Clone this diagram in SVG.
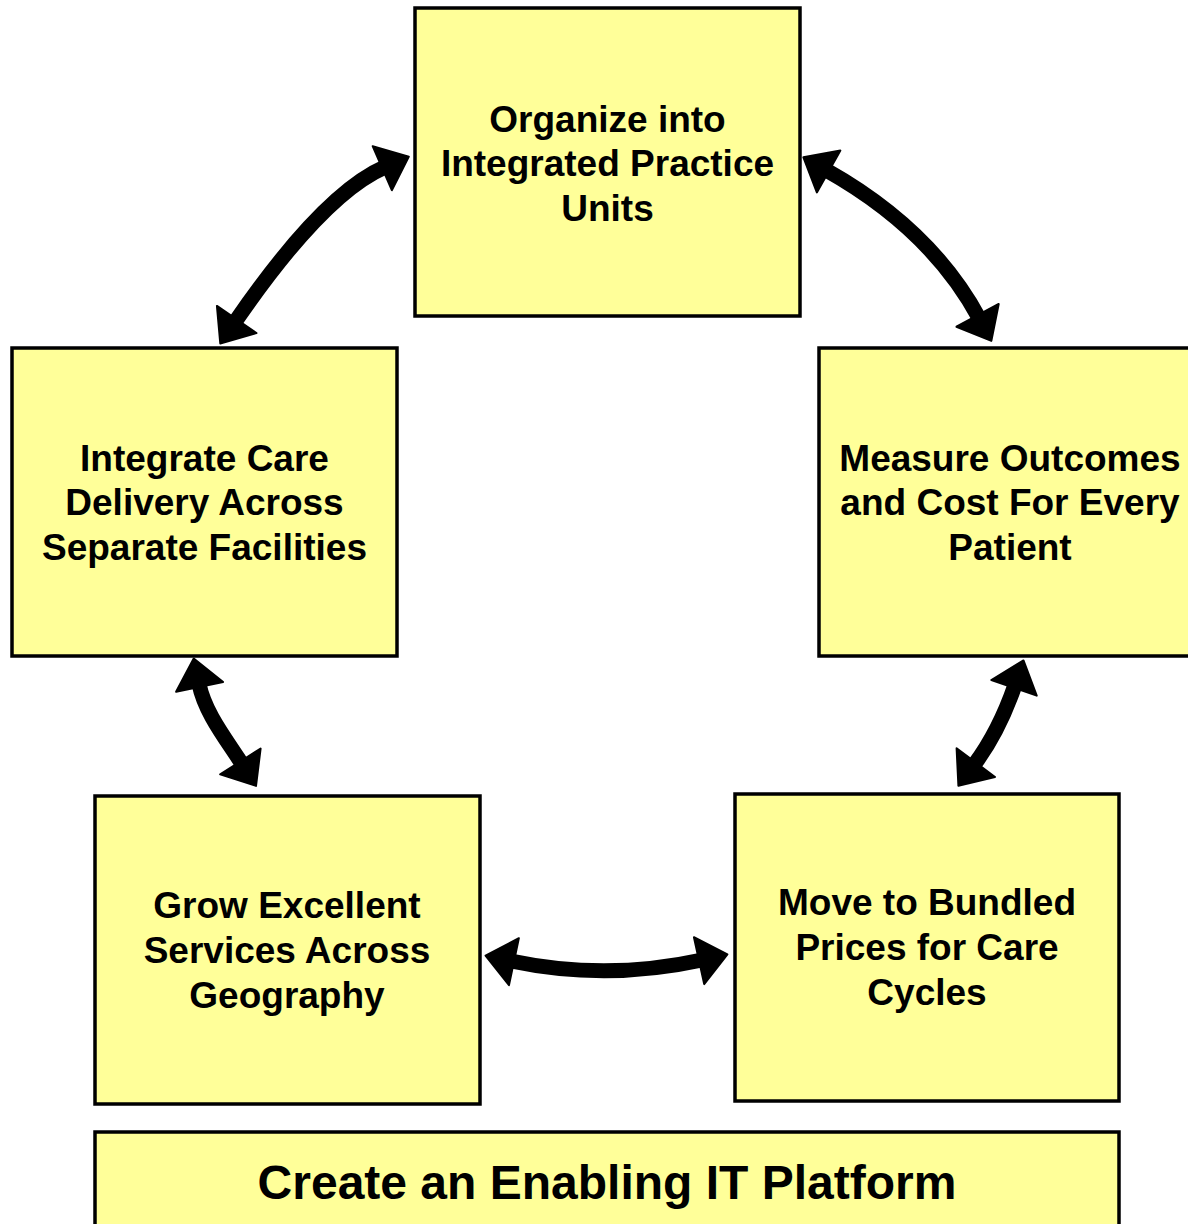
<svg xmlns="http://www.w3.org/2000/svg" width="1188" height="1224" viewBox="0 0 1188 1224">
<style>
.box{fill:#FFFF99;stroke:#000;stroke-width:3.5}
.lbl{font-family:"Liberation Sans",Arial,Helvetica,sans-serif;font-weight:bold;font-size:37px;fill:#000;text-anchor:middle}
.big{font-size:48px}
.shaft{fill:none;stroke:#000;stroke-width:15}
</style>
<defs>
<marker id="headEnd" markerUnits="userSpaceOnUse" markerWidth="60" markerHeight="60" refX="0" refY="0" orient="auto" overflow="visible" viewBox="-30 -30 60 60">
<path d="M-3,-24 L26,0 L-3,24 Z" fill="#000" stroke="#000" stroke-width="2" stroke-linejoin="round"/>
</marker>
<marker id="headStart" markerUnits="userSpaceOnUse" markerWidth="60" markerHeight="60" refX="0" refY="0" orient="auto" overflow="visible" viewBox="-30 -30 60 60">
<path d="M3,-24 L-26,0 L3,24 Z" fill="#000" stroke="#000" stroke-width="2" stroke-linejoin="round"/>
</marker>
</defs>
<rect width="1188" height="1224" fill="#fff"/>
<g id="connectors">
<path class="shaft" d="M235,322 Q323,194 385,167" marker-start="url(#headStart)" marker-end="url(#headEnd)"/>
<path class="shaft" d="M826,170 Q931,229 979,318" marker-start="url(#headStart)" marker-end="url(#headEnd)"/>
<path class="shaft" d="M199,684 C205,713 226,739 242,764" marker-start="url(#headStart)" marker-end="url(#headEnd)"/>
<path class="shaft" d="M511,961 Q606,981 702,960" marker-start="url(#headStart)" marker-end="url(#headEnd)"/>
<path class="shaft" d="M1015,685 C1005,714 992,741 974,765" marker-start="url(#headStart)" marker-end="url(#headEnd)"/>
</g>
<g id="node-organize">
<rect class="box" x="415" y="8" width="385" height="308"/>
<text class="lbl" x="607.5" y="132">Organize into</text>
<text class="lbl" x="607.5" y="176">Integrated Practice</text>
<text class="lbl" x="607.5" y="220.5">Units</text>
</g>
<g id="node-integrate">
<rect class="box" x="12" y="348" width="385" height="308"/>
<text class="lbl" x="204.5" y="470.5">Integrate Care</text>
<text class="lbl" x="204.5" y="515">Delivery Across</text>
<text class="lbl" x="204.5" y="559.5">Separate Facilities</text>
</g>
<g id="node-measure">
<rect class="box" x="819" y="348" width="385" height="308"/>
<text class="lbl" x="1010" y="470.5">Measure Outcomes</text>
<text class="lbl" x="1010" y="515">and Cost For Every</text>
<text class="lbl" x="1010" y="559.5">Patient</text>
</g>
<g id="node-grow">
<rect class="box" x="95" y="796" width="385" height="308"/>
<text class="lbl" x="287" y="918">Grow Excellent</text>
<text class="lbl" x="287" y="963">Services Across</text>
<text class="lbl" x="287" y="1008">Geography</text>
</g>
<g id="node-bundled">
<rect class="box" x="735" y="794" width="384" height="307"/>
<text class="lbl" x="927" y="915">Move to Bundled</text>
<text class="lbl" x="927" y="960">Prices for Care</text>
<text class="lbl" x="927" y="1005">Cycles</text>
</g>
<g id="node-it">
<rect class="box" x="95" y="1132" width="1024" height="120"/>
<text class="lbl big" x="607" y="1199">Create an Enabling IT Platform</text>
</g>
</svg>
